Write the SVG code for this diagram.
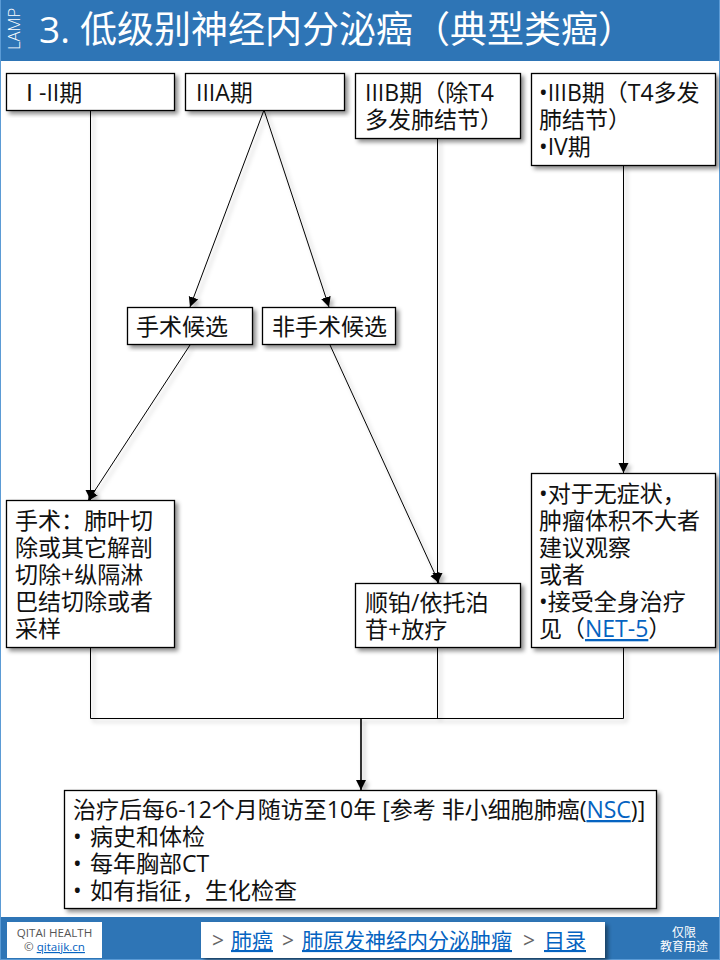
<svg xmlns="http://www.w3.org/2000/svg" width="720" height="960" viewBox="0 0 720 960">
<style>
text{font-family:"Open Sans","Noto Sans CJK SC",sans-serif;fill:#111}
.b{fill:#fff;stroke:#000;stroke-width:1.3;filter:url(#s)}
.t{font-size:23px}
.l{fill:#0563c1;text-decoration:underline}
.c{fill:none;stroke:#000;stroke-width:1}
</style>
<defs>
<filter id="s" x="-20%" y="-20%" width="140%" height="140%"><feDropShadow dx="3" dy="3" stdDeviation="2" flood-color="#000" flood-opacity=".45"/></filter>
<filter id="ls" filterUnits="userSpaceOnUse" x="0" y="0" width="720" height="960"><feDropShadow dx="3" dy="3" stdDeviation="2" flood-color="#000" flood-opacity=".3"/></filter>
<marker id="a" markerUnits="userSpaceOnUse" markerWidth="12" markerHeight="12" refX="10" refY="5" orient="auto"><path d="M0 0L10 5L0 10Z" fill="#000"/></marker>
</defs>
<rect width="720" height="960" fill="#fff"/>
<rect x="0.5" y="0.5" width="719" height="959" fill="none" stroke="#5b9bd5"/>
<g id="header">
<rect x="1" y="0" width="718" height="61" fill="#2e75b6"/>
<text transform="translate(20 50) rotate(-90)" style="font-size:16.500px;font-weight:300;fill:#fff">LAMP</text>
<text x="39" y="43" style="font-size:37px;fill:#fff">3. <tspan x="80">低级别神经内分泌癌（典型类癌）</tspan></text>
</g>
<g id="connectors" filter="url(#ls)">
<path class="c" d="M90.500 110V500" marker-end="url(#a)"/>
<path class="c" d="M264 110L190 307" marker-end="url(#a)"/>
<path class="c" d="M264 110L329 307" marker-end="url(#a)"/>
<path class="c" d="M190 345L88 501" marker-end="url(#a)"/>
<path class="c" d="M330 345L439 583" marker-end="url(#a)"/>
<path class="c" d="M437.500 138V583" marker-end="url(#a)"/>
<path class="c" d="M623.500 165V473" marker-end="url(#a)"/>
<path class="c" d="M90.500 648V718.500H623.500V648M437.500 648V718.500"/>
<path class="c" d="M361 718.500V790" style="stroke-width:1.6" marker-end="url(#a)"/>
</g>
<g id="n1"><rect class="b" x="6.500" y="73.500" width="168" height="37"/><text class="t" x="18" y="101">Ⅰ<tspan x="39">-II期</tspan></text></g>
<g id="n2"><rect class="b" x="185.500" y="73.500" width="159" height="37"/><text class="t" x="196" y="101">IIIA期</text></g>
<g id="n3"><rect class="b" x="355.500" y="73.500" width="165" height="65"/><text class="t" x="365" y="101">IIIB期（除T4</text><text class="t" x="365" y="128">多发肺结节）</text></g>
<g id="n4"><rect class="b" x="531.500" y="73.500" width="184" height="92"/><text class="t" x="539" y="101">•IIIB期（T4多发</text><text class="t" x="539" y="128">肺结节）</text><text class="t" x="539" y="155">•IV期</text></g>
<g id="n5"><rect class="b" x="127.500" y="307.500" width="125" height="37"/><text class="t" x="136" y="335">手术候选</text></g>
<g id="n6"><rect class="b" x="262.500" y="307.500" width="133" height="37"/><text class="t" x="272" y="335">非手术候选</text></g>
<g id="n7"><rect class="b" x="6.500" y="500.500" width="168" height="147"/>
<text class="t" x="15" y="529">手术：肺叶切</text><text class="t" x="15" y="556">除或其它解剖</text><text class="t" x="15" y="583">切除+纵隔淋</text><text class="t" x="15" y="610">巴结切除或者</text><text class="t" x="15" y="637">采样</text></g>
<g id="n8"><rect class="b" x="355.500" y="583.500" width="165" height="64"/><text class="t" x="365" y="611">顺铂/依托泊</text><text class="t" x="365" y="638">苷+放疗</text></g>
<g id="n9"><rect class="b" x="531.500" y="473.500" width="184" height="174"/>
<text class="t" x="539" y="502">•对于无症状，</text><text class="t" x="539" y="529">肿瘤体积不大者</text><text class="t" x="539" y="556">建议观察</text><text class="t" x="539" y="583">或者</text><text class="t" x="539" y="610">•接受全身治疗</text><text class="t" x="539" y="637">见（<tspan class="l">NET-5</tspan>）</text></g>
<g id="n10"><rect class="b" x="64.500" y="790.500" width="592" height="118"/>
<text class="t" x="73" y="818">治疗后每6-12个月随访至10年 [参考 非小细胞肺癌(<tspan class="l">NSC</tspan>)]</text>
<text class="t" x="73" y="845">•<tspan x="90">病史和体检</tspan></text><text class="t" x="73" y="872">•<tspan x="90">每年胸部CT</tspan></text><text class="t" x="73" y="899">•<tspan x="90">如有指征，生化检查</tspan></text></g>
<g id="footer">
<rect x="1" y="917" width="718" height="42" fill="#2e75b6"/>
<rect x="7" y="922" width="95" height="36" fill="#fff"/>
<text x="54.500" y="950" text-anchor="middle" style="font-size:11.600px;fill:#555"><tspan x="54.500" y="937">QITAI HEALTH</tspan></text>
<text x="54.500" y="951" text-anchor="middle" style="font-size:11.600px;fill:#555">© <tspan class="l">qitaijk.cn</tspan></text>
<rect x="201" y="922" width="404" height="36" fill="#fff" filter="url(#s)"/>
<text x="212" y="948" style="font-size:21px;fill:#666">&gt;<tspan class="l" x="231">肺癌</tspan><tspan x="282">&gt;</tspan><tspan class="l" x="302">肺原发神经内分泌肿瘤</tspan><tspan x="523">&gt;</tspan><tspan class="l" x="544">目录</tspan></text>
<text x="684" y="950" text-anchor="middle" style="font-size:12px;fill:#fff"><tspan x="684" y="951">教育用途</tspan></text>
<text x="684" y="937" text-anchor="middle" style="font-size:12px;fill:#fff">仅限</text>
</g>
</svg>
